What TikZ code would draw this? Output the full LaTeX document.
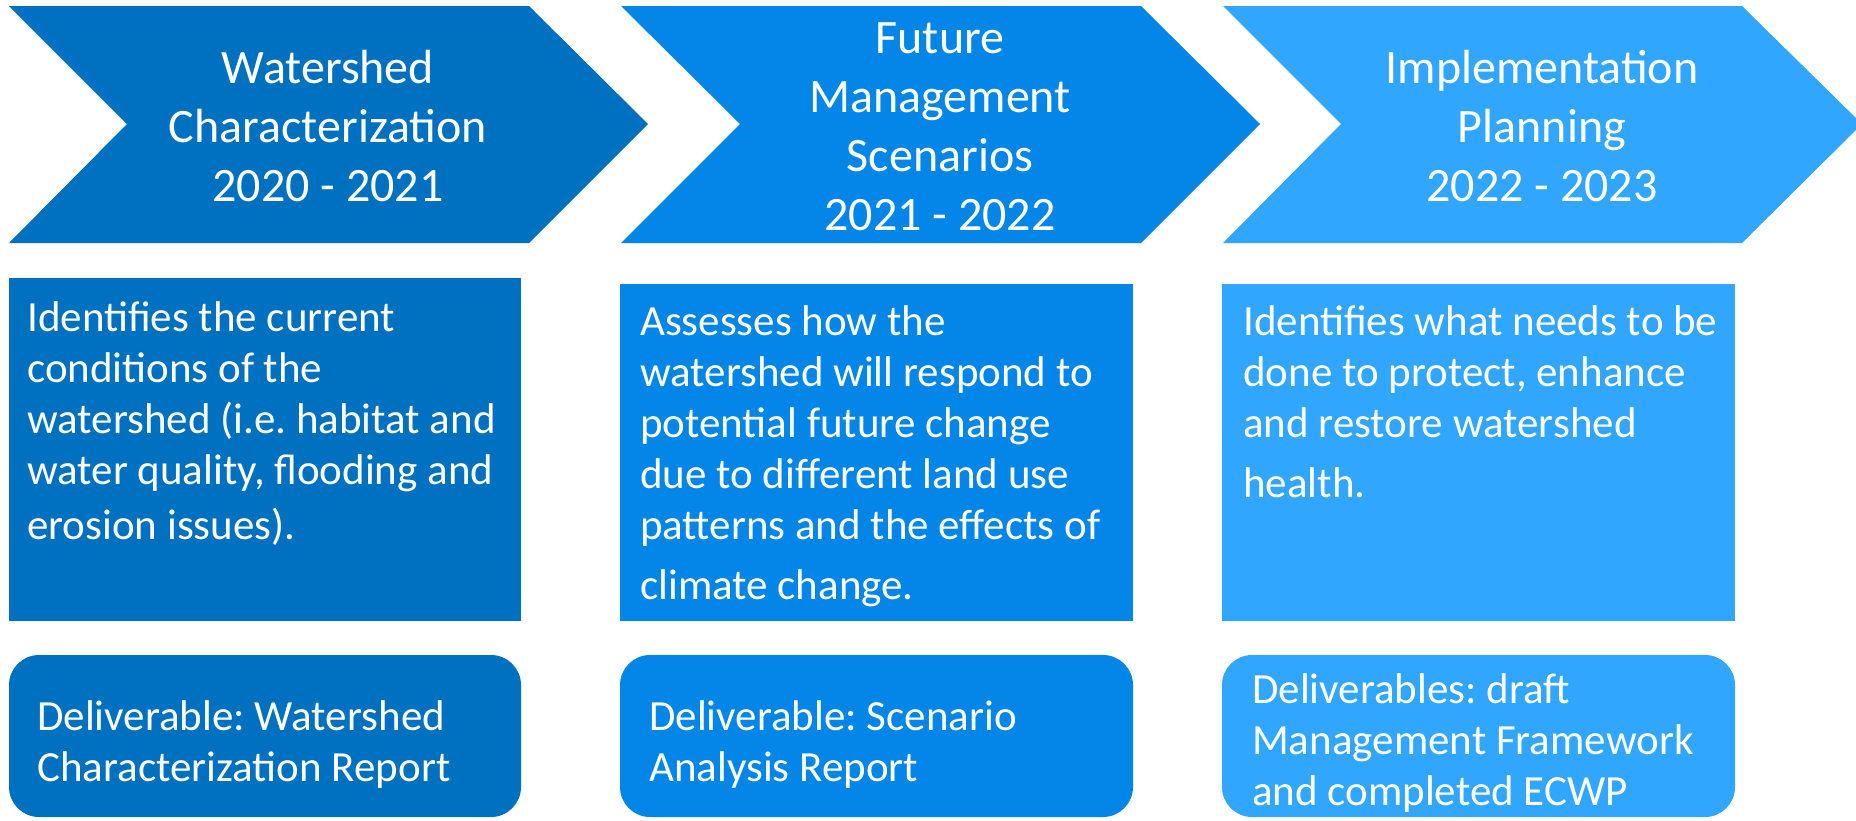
\documentclass[tikz,border=0pt]{standalone}
\usepackage{fontspec}
\setmainfont{Carlito}
\frenchspacing
\definecolor{cA}{RGB}{0,112,192}
\definecolor{cB}{RGB}{3,134,232}
\definecolor{cC}{RGB}{49,166,255}
\newcommand{\tstrut}{\rule{0pt}{0.8em}}
\begin{document}
\begin{tikzpicture}[x=1pt,y=-1pt,
  titletext/.style={text=white,align=center,font=\fontsize{48}{59}\selectfont,inner sep=0pt},
  bodytext/.style={text=white,align=left,font=\fontsize{43}{51}\selectfont,inner sep=0pt,anchor=north west},
  delivbox/.style={rounded corners=30pt},
  ]
\useasboundingbox (0,0) rectangle (1856,820);
\clip (0,0) rectangle (1856,820);
% chevrons
\fill[cA] (9,6) -- (529,6) -- (648,124) -- (529,243) -- (9,243) -- (127,124) -- cycle;
\fill[cB] (621,6) -- (1141,6) -- (1260,124) -- (1141,243) -- (621,243) -- (740,124) -- cycle;
\fill[cC] (1223,6) -- (1742,6) -- (1862,124) -- (1742,243) -- (1223,243) -- (1341,124) -- cycle;
\node[titletext] (t1) at (328,126) {Watershed\\Characterization\\2020 - 2021};
\node[titletext] (t2) at (940,127) {Future\\Management\\Scenarios\\2021 - 2022};
\node[titletext] (t3) at (1542,126) {Implementation\\Planning\\2022 - 2023};
% description boxes
\fill[cA] (9,278) rectangle (521,621);
\fill[cB] (620,284) rectangle (1133,621);
\fill[cC] (1222,284) rectangle (1735,621);
\node[bodytext] (b1) at (27,297) {\tstrut Identifies the current\\conditions of the\\watershed (i.e. habitat and\\water quality, flooding and\\[4pt]erosion issues).};
\node[bodytext] (b2) at (640,301) {\tstrut Assesses how the\\watershed will respond to\\potential future change\\due to different land use\\patterns and the effects of\\[9pt]climate change.};
\node[bodytext] (b3) at (1243,301) {\tstrut Identifies what needs to be\\done to protect, enhance\\and restore watershed\\[9pt]health.};
% deliverable boxes
\fill[cA,delivbox] (9,655) rectangle (521,817);
\fill[cB,delivbox] (620,655) rectangle (1133,817);
\fill[cC,delivbox] (1222,655) rectangle (1735,817);
\node[bodytext] (d1) at (37,696) {\tstrut Deliverable: Watershed\\Characterization Report};
\node[bodytext] (d2) at (649,696) {\tstrut Deliverable: Scenario\\Analysis Report};
\node[bodytext] (d3) at (1252,669) {\tstrut Deliverables: draft\\Management Framework\\and completed ECWP};
\end{tikzpicture}
\end{document}
